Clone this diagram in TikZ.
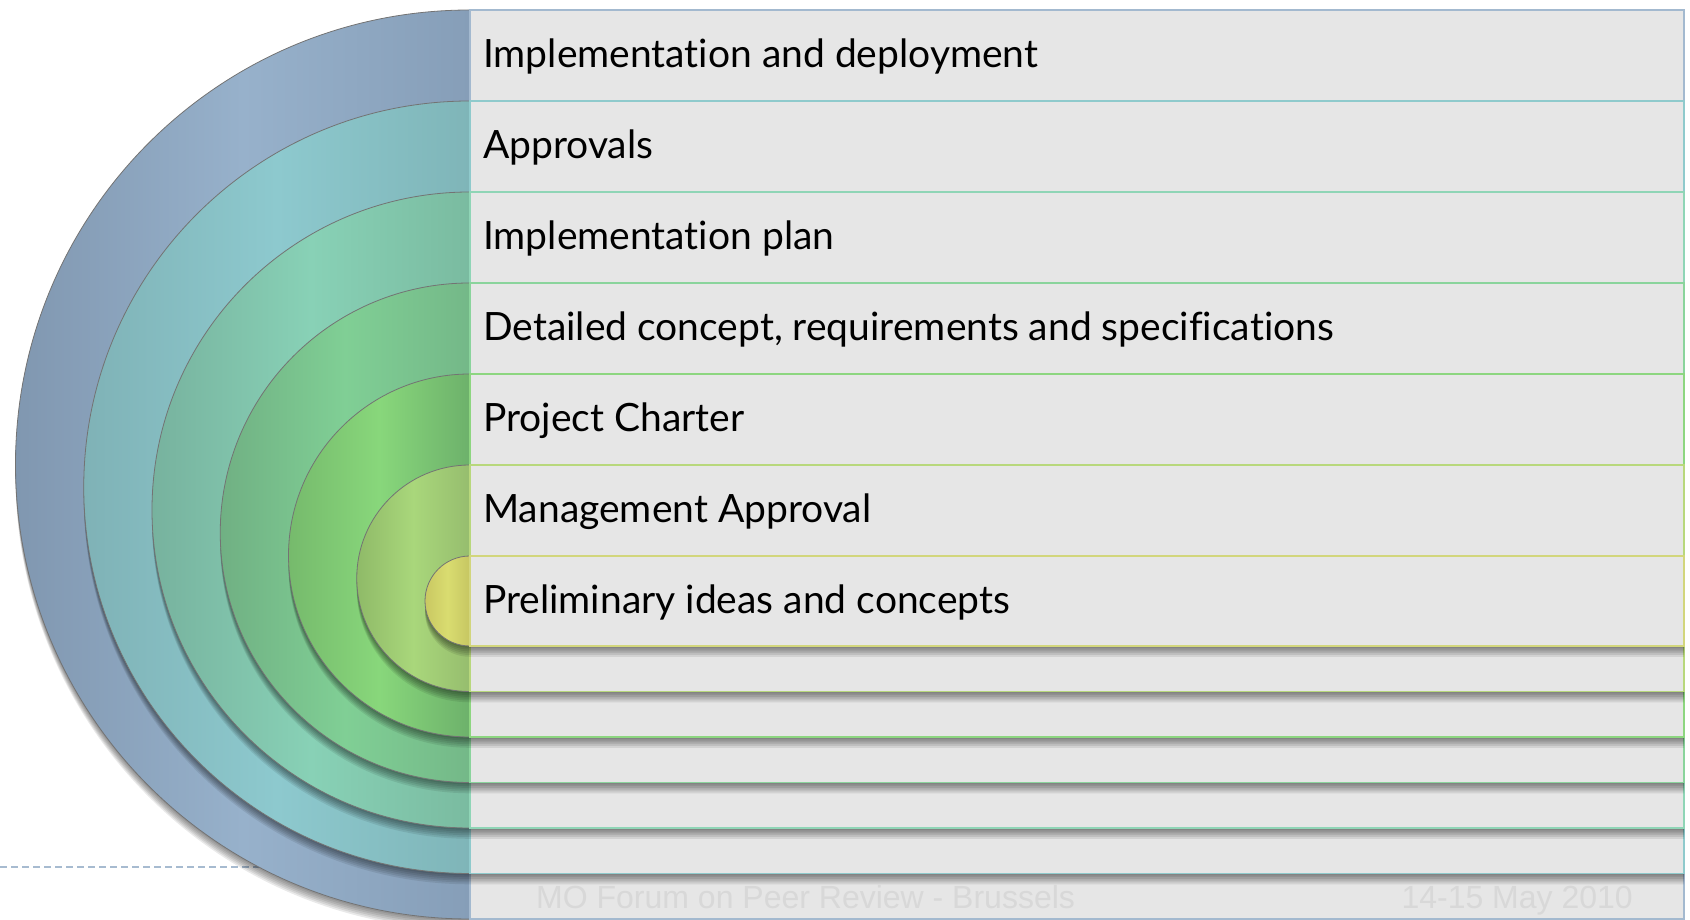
\documentclass[tikz,border=0pt]{standalone}
\usepackage{fontspec}
\setmainfont[Ligatures=NoCommon]{Lato}
\newfontfamily\footfont{Liberation Sans}
\usetikzlibrary{positioning}

% disc colours: left / middle / right, and the rule colour of each bar
\definecolor{ringAl}{HTML}{8097B0}\definecolor{ringAm}{HTML}{97B1CB}\definecolor{ringAr}{HTML}{869EB8}\definecolor{ringAb}{HTML}{A3B9CF}
\definecolor{ringBl}{HTML}{7FB2B6}\definecolor{ringBm}{HTML}{8DC9CE}\definecolor{ringBr}{HTML}{7FB5B8}\definecolor{ringBb}{HTML}{8FCACC}
\definecolor{ringCl}{HTML}{77B29E}\definecolor{ringCm}{HTML}{88D1B6}\definecolor{ringCr}{HTML}{7ABBA0}\definecolor{ringCb}{HTML}{8FD5B6}
\definecolor{ringDl}{HTML}{70B083}\definecolor{ringDm}{HTML}{80CF95}\definecolor{ringDr}{HTML}{74B888}\definecolor{ringDb}{HTML}{8AD49C}
\definecolor{ringEl}{HTML}{76BA6C}\definecolor{ringEm}{HTML}{88D77B}\definecolor{ringEr}{HTML}{6DB16B}\definecolor{ringEb}{HTML}{8DD680}
\definecolor{ringFl}{HTML}{8FBA68}\definecolor{ringFm}{HTML}{A9D77B}\definecolor{ringFr}{HTML}{96BD6E}\definecolor{ringFb}{HTML}{B8D87C}
\definecolor{ringGl}{HTML}{C9C862}\definecolor{ringGm}{HTML}{D9DC70}\definecolor{ringGr}{HTML}{C6C662}\definecolor{ringGb}{HTML}{D2D67C}
\definecolor{bargray}{HTML}{E6E6E6}
\definecolor{footgray}{HTML}{D8D8D8}
\definecolor{ruleblue}{HTML}{A7BBD0}

\begin{document}
\begin{tikzpicture}[
  x=1pt, y=1pt,
  ring/.style={
    draw=black!55,
    line width=0.8pt
  },
  bar/.style={
    fill=bargray,
    line width=1.6pt
  },
  bar label/.style={
    anchor=base west,
    inner sep=0pt,
    font=\fontsize{39}{39}\selectfont
  },
  foot label/.style={
    inner sep=0pt,
    text=footgray,
    font=\footfont\fontsize{32}{32}\selectfont
  },
  slide rule/.style={
    draw=ruleblue,
    dash pattern=on 7pt off 4pt,
    line width=1.3pt
  },
]
\useasboundingbox (0,0) rectangle (1690,920);
\draw[slide rule] (0,53) -- (470,53);
\foreach \i/\rc/\txt in {
  0/A/Implementation and deployment,
  1/B/Approvals,
  2/C/Implementation plan,
  3/D/{Detailed concept, requirements and specifications},
  4/E/Project Charter,
  5/F/Management Approval,
  6/G/Preliminary ideas and concepts%
}{
  \pgfmathsetmacro\yt{910-91*\i}
  \pgfmathsetmacro\yb{1+45.5*\i}
  \pgfmathsetmacro\rr{(\yt-\yb)/2}
  % soft shadow
  \foreach \k in {1,...,6}
    \fill[black, opacity=0.085] (470,\yb-\k*1.8) arc (270:90:\rr)
      -- (1684,\yt-\k*1.8) -- (1684,\yb-\k*1.8) -- cycle;
  \shade[ring, left color=ring\rc l, right color=ring\rc r, middle color=ring\rc m]
    (470,\yb) arc (270:90:\rr) -- cycle;
  \draw[bar, draw=ring\rc b] (470,\yb) rectangle (1684,\yt);
  \node[bar label] (step\rc) at (483,\yt-58) {\txt};
}
\node[foot label, anchor=base west] (venue) at (536,11) {MO Forum on Peer Review - Brussels};
\node[foot label, anchor=base east] (date) at (1633,11) {14-15 May 2010};
\end{tikzpicture}
\end{document}
